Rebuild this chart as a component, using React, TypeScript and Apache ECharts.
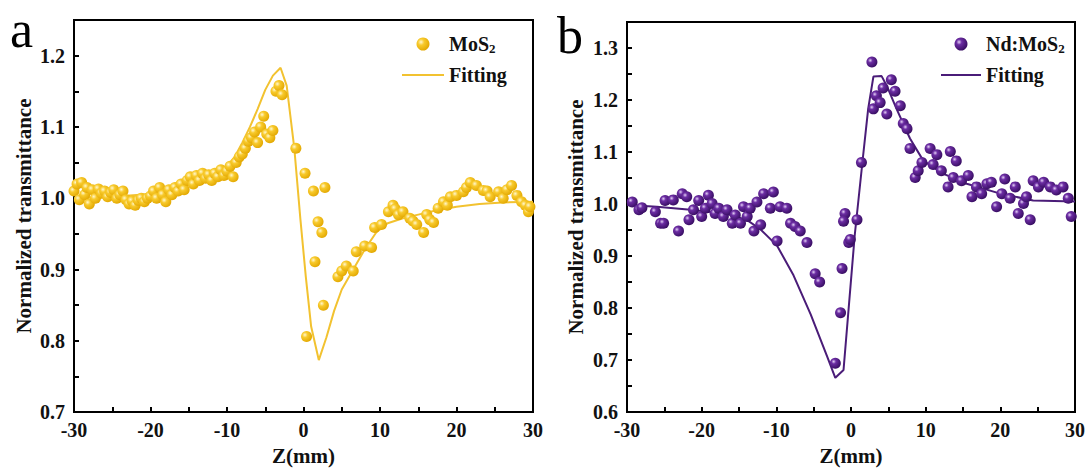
import React, { useEffect, useRef } from "react";
import * as echarts from "echarts";

// ---------- Panel a : MoS2 ----------
const zA = [
  -30.0, -29.6, -29.3, -29.0, -28.6, -28.3, -28.0, -27.6, -27.2, -26.8, -26.4, -26.0, -25.6, -25.2,
  -24.8, -24.4, -24.0, -23.6, -23.2, -22.8, -22.4, -22.0, -21.6, -21.2, -20.8, -20.4, -20.0, -19.6,
  -19.2, -18.8, -18.4, -18.0, -17.6, -17.2, -16.8, -16.4, -16.0, -15.6, -15.2, -14.8, -14.4, -14.0,
  -13.6, -13.2, -12.8, -12.4, -12.0, -11.6, -11.2, -10.8, -10.4, -10.0, -9.6, -9.2, -8.8, -8.4,
  -8.0, -7.6, -7.2, -6.8, -6.4, -6.0, -5.6, -5.2, -4.8, -4.4, -4.0, -3.6, -3.2, -2.8,
  -1.0, 0.2, 1.3, 2.8, 1.9, 2.4, 1.5, 2.6, 0.4,
  4.5, 5.0, 5.6, 6.5, 6.9, 8.0, 8.9, 9.3, 10.2, 11.1, 11.7, 12.0, 12.4, 13.0, 13.9, 14.3, 14.8,
  15.7, 16.1, 16.5, 17.0, 17.6, 18.3, 18.8, 19.2, 20.0, 20.9, 21.3, 21.8, 22.6, 23.5, 24.0, 24.4,
  25.5, 26.1, 26.6, 27.2, 27.9, 28.5, 29.0, 29.4, 29.6,
];
const tA = [
  1.010, 1.020, 0.998, 1.022, 1.005, 1.015, 0.992, 1.012, 1.000, 1.013, 1.007, 1.010, 1.002, 1.008,
  1.012, 1.000, 1.005, 1.010, 0.998, 0.992, 0.996, 0.990, 0.997, 1.000, 0.995, 1.000, 1.003, 1.010,
  1.000, 1.015, 1.005, 0.995, 1.012, 1.005, 1.015, 1.010, 1.020, 1.012, 1.025, 1.030, 1.020, 1.032,
  1.025, 1.035, 1.028, 1.033, 1.025, 1.035, 1.030, 1.040, 1.032, 1.038, 1.045, 1.030, 1.050, 1.058,
  1.062, 1.070, 1.080, 1.085, 1.093, 1.078, 1.100, 1.115, 1.090, 1.085, 1.095, 1.150, 1.158, 1.145,
  1.070, 1.035, 1.010, 1.015, 0.967, 0.952, 0.911, 0.850, 0.806,
  0.890, 0.898, 0.905, 0.898, 0.925, 0.933, 0.931, 0.959, 0.963, 0.981, 0.990, 0.985, 0.977, 0.981, 0.972, 0.968, 0.963,
  0.952, 0.977, 0.970, 0.966, 0.986, 0.995, 0.990, 1.002, 1.004, 1.009, 1.015, 1.022, 1.018, 1.011, 1.010, 1.002,
  1.009, 1.000, 1.012, 1.018, 1.004, 0.995, 0.990, 0.981, 0.988,
];
const fitZA = [
  -30, -25, -20, -17, -15, -13, -11, -10, -9, -8, -7, -6, -5, -4, -3, -2.2, -1.2, -0.4, 0.3, 1.0, 2.0,
  3.0, 4.0, 5.0, 6.5, 8, 9.5, 11, 13, 15, 17, 20, 23, 26, 30,
];
const fitTA = [
  1.0, 1.002, 1.006, 1.012, 1.018, 1.026, 1.036, 1.045, 1.058, 1.078, 1.1, 1.125, 1.152, 1.172, 1.183, 1.158, 1.07, 0.97, 0.89, 0.82, 0.773,
  0.805, 0.842, 0.872, 0.9, 0.928, 0.952, 0.965, 0.972, 0.977, 0.982, 0.988, 0.992, 0.994, 0.995,
];

// ---------- Panel b : Nd:MoS2 ----------
const zB = [
  -29.3, -28.4, -28.0, -26.2, -25.5, -25.1, -24.9, -23.8, -23.1, -22.6, -22.0, -21.7, -21.1, -20.4,
  -20.0, -19.5, -19.1, -18.6, -18.2, -17.7, -17.1, -16.6, -15.9, -15.5, -14.8, -14.4, -13.9, -13.5,
  -13.0, -12.6, -12.1, -11.7, -10.8, -10.4, -9.9, -9.5, -8.6, -8.1, -7.5, -6.8, -5.9, -4.8, -4.2,
  -2.1, -1.4, -1.2, -0.8, -1.0, -0.3,
  -0.1, 0.8, 1.4, 2.8, 3.0, 3.4, 3.9, 4.3, 4.8, 5.4, 5.9, 6.6, 7.0, 7.5, 7.9, 8.6, 9.0, 9.5,
  10.6, 11.5, 11.0, 12.1, 13.3, 14.1, 13.0, 13.7, 14.8, 15.7, 16.2, 16.8, 17.5, 18.2, 18.8, 19.5,
  20.2, 20.6, 21.3, 22.0, 22.4, 23.1, 23.5, 24.0, 24.4, 25.1, 25.8, 26.7, 27.5, 28.4, 29.1, 29.5,
];
const tB = [
  1.004, 0.989, 0.993, 0.985, 0.963, 0.963, 1.007, 1.008, 0.948, 1.020, 1.014, 0.970, 0.989, 1.007,
  0.976, 0.992, 1.017, 1.001, 0.982, 0.992, 0.976, 0.989, 0.963, 0.979, 0.963, 0.995, 0.976, 0.992,
  0.948, 1.004, 0.960, 1.020, 0.992, 1.023, 0.929, 0.995, 0.992, 0.963, 0.957, 0.948, 0.926, 0.866, 0.850,
  0.694, 0.791, 0.876, 0.982, 0.967, 0.926,
  0.932, 0.970, 1.080, 1.273, 1.183, 1.208, 1.195, 1.223, 1.173, 1.239, 1.217, 1.189, 1.155, 1.145, 1.107, 1.051, 1.064, 1.080,
  1.107, 1.095, 1.076, 1.064, 1.101, 1.083, 1.033, 1.051, 1.045, 1.055, 1.014, 1.033, 1.020, 1.039, 1.042, 0.995,
  1.020, 1.048, 1.011, 1.033, 0.982, 1.001, 1.014, 0.970, 1.045, 1.033, 1.042, 1.033, 1.027, 1.033, 1.011, 0.976,
];
const fitZB = [
  -30, -26, -21.5, -17, -14, -12.1, -9.9, -7.7, -5.4, -3.2, -2.1, -1.0, 0.5, 1.6, 2.3, 3.0, 4.1, 4.8,
  6.1, 7.9, 9.7, 12.4, 15.5, 20, 24.4, 30,
];
const fitTB = [
  0.998, 0.995, 0.989, 0.982, 0.97, 0.951, 0.92, 0.863, 0.788, 0.707, 0.666, 0.681, 0.94, 1.09, 1.183, 1.245, 1.246, 1.227,
  1.183, 1.126, 1.083, 1.058, 1.039, 1.02, 1.007, 1.005,
];

const xTicks = [-30, 30];
const yRangeA = [0.7, 1.25];
const yRangeB = [0.6, 1.35];

const pairs = (xs: number[], ys: number[]) => xs.map((x, i) => [x, ys[i]]);

const FONT = "'Liberation Serif', 'Times New Roman', serif";
const INK = "#111";
const CLEAR = "rgba(0,0,0,0)";

export default function App() {
  const ref = useRef<HTMLDivElement>(null);
  useEffect(() => {
    if (!ref.current) return;
    const chart = echarts.init(ref.current, undefined, { renderer: "svg" });

    const ballA = new echarts.graphic.RadialGradient(0.35, 0.35, 0.7, [
      { offset: 0, color: "#FFF7CF" },
      { offset: 0.35, color: "#F8CA2C" },
      { offset: 1, color: "#E2A700" },
    ]);
    const ballB = new echarts.graphic.RadialGradient(0.35, 0.35, 0.7, [
      { offset: 0, color: "#E3CFF6" },
      { offset: 0.3, color: "#6C2DA3" },
      { offset: 1, color: "#360C60" },
    ]);
    const lineA = "#F2C230";
    const lineB = "#4A1C78";

    const xAxisBase = (gi: number) => ({
      type: "value",
      gridIndex: gi,
      min: xTicks[0],
      max: xTicks[1],
      interval: 5,
      name: "Z(mm)",
      nameLocation: "middle",
      nameGap: 23,
      nameTextStyle: { fontFamily: FONT, fontWeight: "bold", fontSize: 21, color: INK },
      axisLine: { show: true, onZero: false, lineStyle: { color: "#000", width: 2 } },
      axisTick: { show: true, inside: true, length: 5, lineStyle: { color: "#000", width: 2 } },
      splitLine: { show: false },
      axisLabel: {
        margin: 8,
        fontFamily: FONT,
        fontWeight: "bold",
        fontSize: 20,
        color: INK,
        formatter: (v: number) => (Math.round(v) % 10 === 0 ? String(Math.round(v)) : ""),
      },
    });
    const yAxisBase = (gi: number, range: number[], gap: number) => ({
      type: "value",
      gridIndex: gi,
      min: range[0],
      max: range[1],
      interval: 0.05,
      name: "Normalized transmittance",
      nameLocation: "middle",
      nameGap: gap,
      nameTextStyle: { fontFamily: FONT, fontWeight: "bold", fontSize: 21, color: INK },
      axisLine: { show: true, onZero: false, lineStyle: { color: "#000", width: 2 } },
      axisTick: { show: true, inside: true, length: 5, lineStyle: { color: "#000", width: 2 } },
      splitLine: { show: false },
      axisLabel: {
        margin: 9,
        fontFamily: FONT,
        fontWeight: "bold",
        fontSize: 20,
        color: INK,
        formatter: (v: number) => {
          const k = Math.round(v * 100);
          if (k % 10 !== 0 || v > range[1] - 1e-6) return "";
          return (k / 100).toFixed(1);
        },
      },
    });

    const legendRich = {
      t: { fontFamily: FONT, fontWeight: "bold", fontSize: 20, color: INK, lineHeight: 22 },
      s: { fontFamily: FONT, fontWeight: "bold", fontSize: 13, color: INK, lineHeight: 8, verticalAlign: "bottom" },
    };
    const hiddenSymbol = { color: CLEAR, borderColor: CLEAR, borderWidth: 0, opacity: 0 };

    chart.setOption({
      animation: false,
      backgroundColor: "#fff",
      grid: [
        { left: 74, top: 20, width: 459, height: 403, show: true, borderColor: "#000", borderWidth: 2, backgroundColor: "transparent" },
        { left: 627, top: 22, width: 448, height: 398, show: true, borderColor: "#000", borderWidth: 2, backgroundColor: "transparent" },
      ],
      xAxis: [xAxisBase(0), xAxisBase(1)],
      yAxis: [yAxisBase(0, yRangeA, 40), yAxisBase(1, yRangeB, 41)],
      legend: [
        {
          left: 396,
          top: 29,
          orient: "vertical",
          itemWidth: 42,
          itemHeight: 13,
          itemGap: 10,
          data: [
            { name: "MoS2", icon: "circle" },
            { name: "fitA", icon: "inherit", itemStyle: hiddenSymbol, lineStyle: { color: lineA, width: 2, opacity: 1 } },
          ],
          formatter: (n: string) => (n === "MoS2" ? "{t|MoS}{s|2}" : "{t|Fitting}"),
          textStyle: { rich: legendRich },
          selectedMode: false,
        },
        {
          left: 935,
          top: 29,
          orient: "vertical",
          itemWidth: 40,
          itemHeight: 13,
          itemGap: 10,
          data: [
            { name: "NdMoS2", icon: "circle" },
            { name: "fitB", icon: "inherit", itemStyle: hiddenSymbol, lineStyle: { color: lineB, width: 2, opacity: 1 } },
          ],
          formatter: (n: string) => (n === "NdMoS2" ? "{t|Nd:MoS}{s|2}" : "{t|Fitting}"),
          textStyle: { rich: legendRich },
          selectedMode: false,
        },
      ],
      graphic: [
        { type: "text", left: 10, top: 3, style: { text: "a", fontFamily: FONT, fontSize: 52, fill: "#000" } },
        { type: "text", left: 557, top: 9, style: { text: "b", fontFamily: FONT, fontSize: 52, fill: "#000" } },
      ],
      series: [
        {
          name: "fitA",
          type: "line",
          xAxisIndex: 0,
          yAxisIndex: 0,
          data: pairs(fitZA, fitTA),
          symbol: "none",
          lineStyle: { color: lineA, width: 2 },
          itemStyle: { color: lineA },
          z: 2,
        },
        {
          name: "MoS2",
          type: "scatter",
          xAxisIndex: 0,
          yAxisIndex: 0,
          data: pairs(zA, tA),
          symbol: "circle",
          symbolSize: 11,
          itemStyle: { color: ballA, opacity: 1 },
          z: 3,
        },
        {
          name: "fitB",
          type: "line",
          xAxisIndex: 1,
          yAxisIndex: 1,
          data: pairs(fitZB, fitTB),
          symbol: "none",
          lineStyle: { color: lineB, width: 2 },
          itemStyle: { color: lineB },
          z: 2,
        },
        {
          name: "NdMoS2",
          type: "scatter",
          xAxisIndex: 1,
          yAxisIndex: 1,
          data: pairs(zB, tB),
          symbol: "circle",
          symbolSize: 11,
          itemStyle: { color: ballB, opacity: 1 },
          z: 3,
        },
      ],
    });
    return () => chart.dispose();
  }, []);
  return <div ref={ref} style={{ position: "absolute", left: 0, top: 0, width: 1088, height: 471 }} />;
}
